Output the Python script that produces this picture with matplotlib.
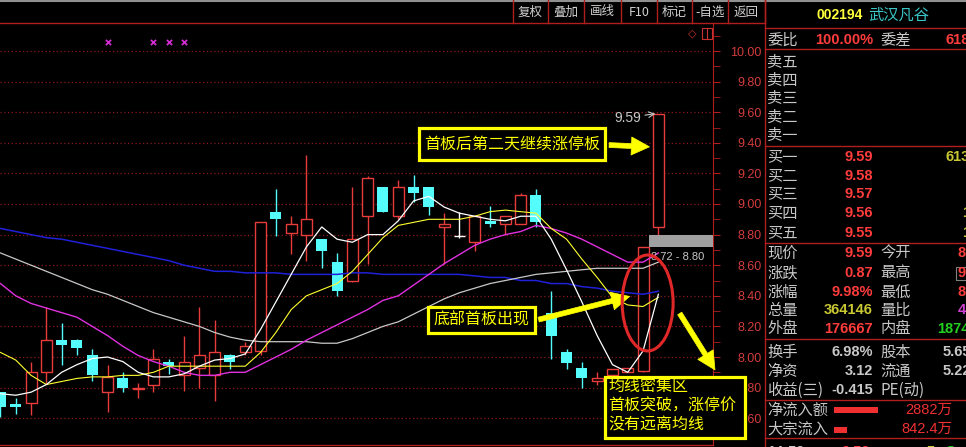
import numpy as np
import matplotlib.pyplot as plt
from matplotlib.patches import Rectangle, Ellipse
from matplotlib.lines import Line2D

plt.rcParams['font.family'] = ['Noto Sans CJK SC', 'DejaVu Sans']

W, H = 966, 447

# daily candles (oldest -> newest)
opens  = [7.77, 7.69, 7.70, 7.90, 8.11, 8.11, 8.01, 7.77, 7.86, 7.79,
          7.82, 7.97, 7.88, 7.93, 7.88, 8.01, 8.03, 8.04, 8.95, 8.81,
          8.80, 8.77, 8.62, 8.50, 8.92, 9.11, 8.92, 9.11, 9.11, 8.85,
          8.79, 8.75, 8.89, 8.87, 8.87, 9.06, 8.29, 8.03, 7.93, 7.84,
          7.88, 7.90, 7.91, 8.85]
highs  = [7.77, 7.73, 7.97, 8.33, 8.22, 8.12, 8.05, 7.95, 7.90, 7.83,
          8.05, 7.99, 8.14, 8.33, 8.24, 8.02, 8.10, 8.88, 9.10, 8.92,
          9.32, 8.77, 8.68, 9.11, 9.18, 9.11, 9.16, 9.19, 9.11, 8.94,
          8.95, 8.92, 8.99, 8.92, 9.07, 9.10, 8.43, 8.05, 7.97, 7.90,
          7.92, 7.93, 8.72, 9.59]
lows   = [7.61, 7.63, 7.62, 7.83, 7.95, 8.01, 7.84, 7.64, 7.77, 7.73,
          7.77, 7.89, 7.78, 7.80, 7.71, 7.92, 8.01, 8.01, 8.79, 8.67,
          8.63, 8.58, 8.40, 8.49, 8.61, 8.95, 8.90, 9.01, 8.93, 8.61,
          8.78, 8.69, 8.85, 8.80, 8.87, 8.85, 7.99, 7.92, 7.80, 7.82,
          7.88, 7.90, 7.90, 8.80]
closes = [7.67, 7.67, 7.90, 8.11, 8.08, 8.06, 7.88, 7.87, 7.80, 7.80,
          7.99, 7.94, 7.97, 8.01, 8.03, 7.97, 8.07, 8.88, 8.90, 8.87,
          8.90, 8.69, 8.43, 8.77, 9.17, 8.95, 9.11, 9.07, 8.98, 8.87,
          8.79, 8.92, 8.87, 8.92, 9.06, 8.88, 8.14, 7.96, 7.86, 7.86,
          7.92, 7.93, 8.72, 9.59]

# moving averages as drawn
ma5   = [7.76, 7.75, 7.77, 7.82, 7.90, 7.95, 7.99, 8.00, 7.97, 7.90,
         7.87, 7.87, 7.89, 7.94, 7.98, 7.99, 8.02, 8.18, 8.36, 8.54,
         8.72, 8.85, 8.77, 8.75, 8.80, 8.80, 8.89, 9.02, 9.05, 8.98,
         8.94, 8.92, 8.90, 8.89, 8.92, 8.92, 8.77, 8.57, 8.36, 8.14,
         7.95, 7.90, 8.04, 8.41]
ma10  = [8.03, 7.98, 7.88, 7.82, 7.84, 7.86, 7.87, 7.87, 7.88, 7.88,
         7.90, 7.94, 7.94, 7.94, 7.94, 7.94, 7.94, 8.03, 8.16, 8.31,
         8.40, 8.44, 8.48, 8.56, 8.67, 8.78, 8.86, 8.88, 8.90, 8.90,
         8.90, 8.92, 8.95, 8.96, 8.95, 8.94, 8.84, 8.77, 8.64, 8.52,
         8.39, 8.34, 8.33, 8.39]
ma20  = [8.48, 8.40, 8.35, 8.32, 8.29, 8.26, 8.20, 8.14, 8.07, 8.01,
         7.97, 7.94, 7.90, 7.88, 7.88, 7.90, 7.90, 7.95, 8.00, 8.05,
         8.11, 8.16, 8.21, 8.26, 8.31, 8.37, 8.40, 8.47, 8.54, 8.61,
         8.67, 8.73, 8.77, 8.80, 8.82, 8.86, 8.84, 8.81, 8.77, 8.72,
         8.67, 8.62, 8.62, 8.68]
ma60  = [8.68, 8.64, 8.60, 8.56, 8.52, 8.48, 8.44, 8.41, 8.37, 8.33,
         8.29, 8.26, 8.23, 8.20, 8.16, 8.13, 8.11, 8.10, 8.10, 8.10,
         8.10, 8.09, 8.09, 8.12, 8.16, 8.20, 8.23, 8.28, 8.33, 8.38,
         8.42, 8.45, 8.48, 8.50, 8.52, 8.54, 8.55, 8.56, 8.57, 8.58,
         8.58, 8.58, 8.58, 8.62]
ma120 = [8.84, 8.82, 8.80, 8.78, 8.77, 8.75, 8.73, 8.71, 8.69, 8.67,
         8.65, 8.63, 8.60, 8.58, 8.56, 8.56, 8.55, 8.55, 8.55, 8.54,
         8.54, 8.54, 8.54, 8.55, 8.55, 8.54, 8.54, 8.54, 8.54, 8.54,
         8.54, 8.53, 8.52, 8.52, 8.50, 8.50, 8.48, 8.48, 8.46, 8.45,
         8.43, 8.42, 8.41, 8.43]

signal_days = [7, 10, 11, 12]
price_ticks = [7.6, 7.8, 8.0, 8.2, 8.4, 8.6, 8.8, 9.0, 9.2, 9.4, 9.6, 9.8, 10.0]

toolbar = ['复权', '叠加', '画线', 'F10', '标记', '-自选', '返回']

panel_labels = ['委比', '卖五', '卖四', '卖三', '卖二', '卖一',
                '买一', '买二', '买三', '买四', '买五',
                '现价', '涨跌', '涨幅', '总量', '外盘',
                '换手', '净资', '收益(三)', '净流入额', '大宗流入']
panel_values = ['100.00%', '', '', '', '', '',
                '9.59', '9.58', '9.57', '9.56', '9.55',
                '9.59', '0.87', '9.98%', '364146', '176667',
                '6.98%', '3.12', '-0.415', '', '']
second_labels = {0: '委差', 11: '今开', 12: '最高', 13: '最低', 14: '量比',
                 15: '内盘', 16: '股本', 17: '流通', 18: 'PE(动)'}
third_values = {0: '618', 6: '613', 9: '1', 10: '1', 11: '8', 12: '9',
                13: '8', 14: '4', 15: '1874', 16: '5.65', 17: '5.22'}
flow_values = [2882, 842.4]
flow_labels = ['2882万', '842.4万']
tick_row = ['14:59', '9.59', '5', 'S']

RED = '#e83c3c'
CYAN = '#54fcfc'
GRID = '#8a1a1a'
LINE = '#b01e1e'
GRAY = '#c8c8c8'
YEL = '#ffff00'


def fx(x):
    return x / W


def fy(y):
    return 1 - y / H


fig = plt.figure(figsize=(W / 100, H / 100), dpi=100, facecolor='black')

ax = fig.add_axes([0, fy(445), fx(713), (445 - 23) / H])
ax.set_facecolor('black')
ax.set_xlim(-0.03, 713 / 15.3 - 0.03)
ax.set_ylim(10 - (445 - 51) / 153, 10 + (51 - 23) / 153)

o, h, l, c = map(np.array, (opens, highs, lows, closes))
idx = np.arange(len(c))
up, dn, fl = c > o, c < o, c == o
bw = 0.72

ax.vlines(idx[dn], l[dn], h[dn], color=CYAN, lw=1)
ax.bar(idx[dn], o[dn] - c[dn], bw, c[dn], color=CYAN, lw=0)
ax.vlines(idx[up], c[up], h[up], color=RED, lw=1)
ax.vlines(idx[up], l[up], o[up], color=RED, lw=1)
ax.bar(idx[up], c[up] - o[up], bw, o[up], facecolor='black', edgecolor=RED, lw=1)
ax.vlines(idx[fl], l[fl], h[fl], color='white', lw=1)
ax.hlines(c[fl], idx[fl] - bw / 2, idx[fl] + bw / 2, color='white', lw=1)

ax.plot(idx, ma120, color='#2020d8', lw=1.1)
ax.plot(idx, ma60, color='#c8c8c8', lw=0.9)
ax.plot(idx, ma20, color='#e030e0', lw=1.0)
ax.plot(idx, ma10, color='#ffff30', lw=0.8)
ax.plot(idx, ma5, color='white', lw=0.9)

ax.scatter(signal_days, [10.06] * len(signal_days), marker='x', color='#d22cd2', s=14, lw=1.3)

# price scale on the right
ax.set_yticks(price_ticks)
ax.set_yticklabels(['%.2f' % p for p in price_ticks])
ax.set_yticks(np.arange(7.5, 10.15, 0.1), minor=True)
ax.yaxis.tick_right()
ax.tick_params(axis='y', which='both', direction='out', length=5, color=LINE,
               labelcolor='#d23c3c', labelsize=9, pad=30)
for t in ax.get_yticklabels():
    t.set_ha('right')
    t.set_family('Liberation Sans')
ax.set_xticks([])
ax.yaxis.grid(True, color=GRID, linestyle=(0, (1, 2)), lw=0.9)
ax.set_axisbelow(True)
for s in ['top', 'left', 'bottom']:
    ax.spines[s].set_visible(False)
ax.spines['right'].set_color(LINE)

# limit-up gap and notes
ax.fill_between([42.36, ax.get_xlim()[1]], closes[42], lows[43], color='#a0a0a0', lw=0, zorder=3)
ax.text(42.5, 8.655, '%.2f - %.2f' % (closes[42], lows[43]), color=GRAY, fontsize=8,
        family='Liberation Sans', va='center', ha='left', zorder=4)
ax.annotate('%.2f' % highs[43], xy=(42.8, highs[43]), xytext=(41.85, 9.565),
            color=GRAY, fontsize=10, family='Liberation Sans', ha='right', va='center',
            arrowprops=dict(arrowstyle='->', color=GRAY, lw=0.8, shrinkA=1, shrinkB=0))
ax.add_patch(Ellipse((42.3, 8.353), 3.33, 0.627, fill=False, ec='#e02828', lw=2.2, zorder=5))

arrow = 'simple,head_length=1.3,head_width=1.3,tail_width=0.35'
ax.annotate('', xy=(42.6, 9.373), xytext=(39.6, 9.386),
            arrowprops=dict(arrowstyle=arrow, fc=YEL, ec=YEL, lw=0.5), annotation_clip=False)
ax.annotate('', xy=(41.3, 8.40), xytext=(35.0, 8.24),
            arrowprops=dict(arrowstyle=arrow, fc=YEL, ec=YEL, lw=0.5), annotation_clip=False)
ax.annotate('', xy=(46.8, 7.90), xytext=(44.3, 8.30),
            arrowprops=dict(arrowstyle=arrow, fc=YEL, ec=YEL, lw=0.5), annotation_clip=False)


def box(x0, y0, x1, y1):
    fig.add_artist(Rectangle((fx(x0), fy(y1)), fx(x1) - fx(x0), fy(y0) - fy(y1),
                             transform=fig.transFigure, fc='black', ec=YEL, lw=2.3, zorder=6))


box(419, 128, 605, 160)
fig.text(fx(512), fy(144), '首板后第二天继续涨停板', color=YEL, fontsize=11.5,
         ha='center', va='center', zorder=7)
box(428, 307, 535, 333)
fig.text(fx(481.5), fy(320), '底部首板出现', color=YEL, fontsize=11.5,
         ha='center', va='center', zorder=7)
box(605, 377, 745, 438)
for yy, s in zip([386, 406, 425], ['均线密集区', '首板突破，涨停价', '没有远离均线']):
    fig.text(fx(608), fy(yy), s, color=YEL, fontsize=11.5, ha='left', va='center', zorder=7)


def hline(y, x0, x1, color=LINE, lw=1.0):
    fig.add_artist(Line2D([fx(x0), fx(x1)], [fy(y), fy(y)], color=color, lw=lw))


def vline(x, y0, y1, color=LINE, lw=1.0):
    fig.add_artist(Line2D([fx(x), fx(x)], [fy(y0), fy(y1)], color=color, lw=lw))


# frame and toolbar
hline(0.5, 0, W, color='#909090', lw=1.5)
hline(23, 0, 765)
hline(445, 0, 713)
vline(765, 0, H)
seps = [513, 548, 584, 621, 657, 692, 728, 765]
for xs in seps:
    vline(xs, 0, 23)
for k, lab in enumerate(toolbar):
    fig.text(fx((seps[k] + seps[k + 1]) / 2), fy(12), lab, color='#d0d0d0', fontsize=9,
             ha='center', va='center')
fig.text(fx(692), fy(34), '◇', color='#c83232', fontsize=8, ha='center', va='center',
         family=['DejaVu Sans'])
fig.add_artist(Rectangle((fx(702), fy(39)), fx(10), 11 / H, transform=fig.transFigure,
                         fill=False, ec='#c83232', lw=0.8))
vline(707, 28, 39, color='#c83232', lw=0.8)

# quote panel
fig.text(fx(840), fy(15), '002194', color='#ffff3c', fontsize=10, weight='bold',
         family='Liberation Sans', ha='center', va='center')
fig.text(fx(868), fy(15), '武汉凡谷', color='#3cc8c8', fontsize=11, ha='left', va='center')
for yy in [28, 49, 146, 243, 339, 400, 438]:
    hline(yy, 765, W)

rows = [40, 62, 80, 98, 117, 135, 157, 176, 194, 213, 233,
        253, 273, 292, 310, 329, 352, 371, 390, 410, 429]
val_colors = {14: '#c8c832', 16: GRAY, 17: GRAY, 18: GRAY}
for k, (lab, val) in enumerate(zip(panel_labels, panel_values)):
    fig.text(fx(767), fy(rows[k]), lab, color=GRAY, fontsize=11, ha='left', va='center')
    if val:
        fig.text(fx(873), fy(rows[k]), val, color=val_colors.get(k, '#ff3c3c'), fontsize=10.5,
                 weight='bold', family='Liberation Sans', ha='right', va='center')
for k, lab in second_labels.items():
    fig.text(fx(880), fy(rows[k]), lab, color=GRAY, fontsize=11, ha='left', va='center')
third_x = {0: 946, 6: 946, 9: 962, 10: 962, 15: 937, 16: 943, 17: 943}
third_c = {6: '#c8c832', 9: '#c8c832', 10: '#c8c832', 14: '#d040d0', 15: '#20d020',
           16: GRAY, 17: GRAY}
for k, val in third_values.items():
    fig.text(fx(third_x.get(k, 958)), fy(rows[k]), val, color=third_c.get(k, '#ff3c3c'),
             fontsize=10.5, weight='bold', family='Liberation Sans', ha='left', va='center')
fig.add_artist(Rectangle((fx(956), fy(280)), fx(12), 13 / H, transform=fig.transFigure,
                         fill=False, ec='#808080', lw=0.8))

# fund flow bars
axf = fig.add_axes([fx(834), fy(440), fx(44), 40 / H])
axf.set_xlim(0, flow_values[0])
axf.set_ylim(1.5, -0.5)
axf.barh([0, 1], flow_values, height=0.32, color='#f03030')
axf.axis('off')
for k, s in enumerate(flow_labels):
    fig.text(fx(952), fy(rows[19 + k]), s, color='#f03030', fontsize=10.5,
             family=['Liberation Sans', 'Noto Sans CJK SC'], ha='right', va='center')

# first tick row, only its top shows at the bottom edge
for xx, s, col in zip([767, 842, 927, 946], tick_row, [GRAY, '#ff3c3c', '#c8c832', '#20d020']):
    fig.text(fx(xx), fy(452), s, color=col, fontsize=10.5, weight='bold',
             family='Liberation Sans', ha='left', va='center')

fig.savefig('out.png', dpi=100, facecolor='black')
